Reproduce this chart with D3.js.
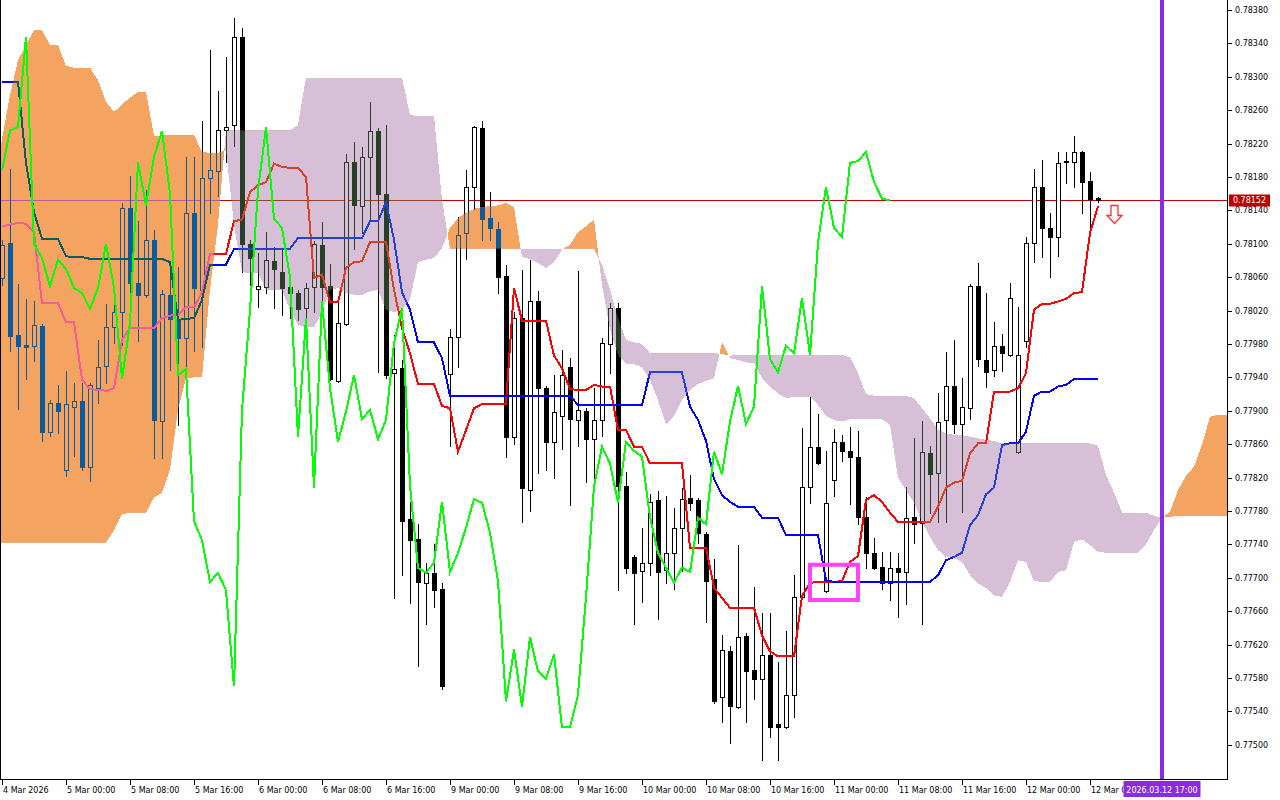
<!DOCTYPE html>
<html><head><meta charset="utf-8">
<script src="https://cdn.jsdelivr.net/npm/d3@7"></script>
<style>
html,body{margin:0;padding:0;background:#fff;}
svg{display:block;}
text{font-family:"DejaVu Sans",sans-serif;font-size:8px;}
</style></head><body>
<svg id="chart" width="1280" height="800"></svg>
<script>
// ---------- DATA (H1 bars, 4 Mar 16:00 .. 12 Mar 09:00) ----------
const opens=[0.78059,0.78101,0.77991,0.77979,0.77978,0.78002,0.77875,0.77909,0.77829,0.77905,
0.77912,0.77833,0.77927,0.77954,0.78000,0.78018,0.78143,0.78053,0.78039,0.78105,
0.77888,0.78039,0.78010,0.77987,0.78137,0.78045,0.78179,0.78187,0.78236,0.78242,
0.78348,0.78100,0.78046,0.78048,0.78079,0.78066,0.78048,0.78041,0.78023,0.78048,
0.78099,0.78049,0.77936,0.78004,0.78198,0.78145,0.78204,0.78235,0.78160,0.77945,
0.77951,0.77770,0.77746,0.77694,0.77706,0.77687,0.77944,0.77988,0.78113,0.78168,
0.78239,0.78131,0.78118,0.78061,0.77869,0.78011,0.77805,0.78031,0.77927,0.77863,
0.77894,0.77952,0.77889,0.77900,0.77866,0.77889,0.77980,0.78023,0.77810,0.77725,
0.77708,0.77718,0.77793,0.77709,0.77730,0.77760,0.77796,0.77793,0.77752,0.77699,
0.77557,0.77612,0.77545,0.77630,0.77590,0.77579,0.77608,0.77525,0.77521,0.77560,
0.77677,0.77809,0.77857,0.77684,0.77817,0.77863,0.77852,0.77845,0.77773,0.77730,
0.77713,0.77694,0.77712,0.77707,0.77773,0.77766,0.77849,0.77826,0.77889,0.77930,
0.77884,0.77903,0.78049,0.77961,0.77949,0.77978,0.77967,0.77851,0.77984,0.78101,
0.78168,0.78119,0.78108,0.78198,0.78198,0.78210,0.78175,0.78155];
const highs=[0.78105,0.78190,0.78052,0.78034,0.78031,0.78004,0.77913,0.77931,0.77948,0.77933,
0.77933,0.77933,0.77985,0.78028,0.78036,0.78149,0.78181,0.78127,0.78164,0.78117,
0.78045,0.78072,0.78072,0.78204,0.78204,0.78247,0.78332,0.78283,0.78324,0.78370,
0.78358,0.78105,0.78089,0.78114,0.78096,0.78095,0.78061,0.78045,0.78053,0.78103,
0.78126,0.78076,0.78029,0.78208,0.78222,0.78216,0.78270,0.78239,0.78242,0.77991,
0.77961,0.77791,0.77764,0.77718,0.77740,0.77694,0.77998,0.78132,0.78188,0.78241,
0.78247,0.78162,0.78126,0.78075,0.78018,0.78069,0.78081,0.78043,0.77930,0.77943,
0.77973,0.77963,0.78067,0.77903,0.77927,0.77987,0.78029,0.78029,0.77827,0.77727,
0.77760,0.77800,0.77804,0.77798,0.77784,0.77808,0.77823,0.77796,0.77755,0.77723,
0.77631,0.77618,0.77739,0.77634,0.77689,0.77658,0.77658,0.77599,0.77636,0.77703,
0.77879,0.77917,0.77896,0.77852,0.77878,0.77871,0.77881,0.77876,0.77797,0.77748,
0.77731,0.77731,0.77730,0.77809,0.77867,0.77888,0.77858,0.77921,0.77970,0.77985,
0.77939,0.78052,0.78077,0.78041,0.78006,0.77992,0.78053,0.78024,0.78108,0.78190,
0.78200,0.78137,0.78210,0.78210,0.78229,0.78211,0.78186,0.78156];
const lows=[0.78051,0.77972,0.77902,0.77938,0.77960,0.77864,0.77870,0.77873,0.77822,0.77846,
0.77829,0.77816,0.77909,0.77933,0.77981,0.77979,0.78017,0.77984,0.78036,0.77843,
0.77843,0.77949,0.77883,0.77954,0.77972,0.77976,0.78137,0.78157,0.78198,0.78217,
0.78066,0.78051,0.78024,0.78041,0.78023,0.78015,0.78011,0.78009,0.78011,0.78018,
0.78027,0.77937,0.77934,0.78003,0.78094,0.78113,0.78129,0.77946,0.77939,0.77676,
0.77703,0.77670,0.77594,0.77645,0.77665,0.77567,0.77858,0.77952,0.78082,0.78142,
0.78105,0.78105,0.78041,0.77845,0.77860,0.77767,0.77780,0.77826,0.77829,0.77820,
0.77854,0.77787,0.77858,0.77815,0.77814,0.77870,0.77945,0.77685,0.77706,0.77645,
0.77671,0.77703,0.77651,0.77694,0.77687,0.77708,0.77781,0.77742,0.77647,0.77550,
0.77527,0.77502,0.77544,0.77527,0.77555,0.77482,0.77509,0.77482,0.77520,0.77533,
0.77676,0.77790,0.77836,0.77683,0.77798,0.77840,0.77788,0.77764,0.77712,0.77711,
0.77687,0.77673,0.77653,0.77669,0.77742,0.77645,0.77778,0.77767,0.77767,0.77873,
0.77779,0.77890,0.77954,0.77929,0.77942,0.77948,0.77966,0.77849,0.77976,0.78078,
0.78084,0.78060,0.78085,0.78173,0.78168,0.78137,0.78114,0.78150];
const closes=[0.78099,0.77990,0.77978,0.77976,0.78003,0.77875,0.77909,0.77900,0.77908,0.77912,
0.77833,0.77931,0.77952,0.78000,0.78018,0.78143,0.78053,0.78039,0.78105,0.77889,
0.78040,0.78010,0.77987,0.78137,0.78047,0.78179,0.78188,0.78236,0.78240,0.78348,
0.78100,0.78083,0.78049,0.78081,0.78070,0.78047,0.78041,0.78022,0.78047,0.78100,
0.78048,0.77938,0.78005,0.78198,0.78146,0.78204,0.78235,0.78160,0.77943,0.77950,
0.77768,0.77745,0.77695,0.77706,0.77685,0.77570,0.77988,0.78111,0.78168,0.78240,
0.78130,0.78119,0.78060,0.77869,0.78011,0.77808,0.78031,0.77927,0.77863,0.77899,
0.77943,0.77890,0.77901,0.77866,0.77889,0.77981,0.78023,0.77810,0.77712,0.77706,
0.77718,0.77791,0.77707,0.77730,0.77760,0.77794,0.77790,0.77754,0.77696,0.77552,
0.77614,0.77546,0.77629,0.77588,0.77579,0.77608,0.77521,0.77521,0.77560,0.77677,
0.77809,0.77857,0.77837,0.77790,0.77863,0.77852,0.77845,0.77773,0.77730,0.77712,
0.77694,0.77712,0.77707,0.77772,0.77764,0.77851,0.77824,0.77887,0.77930,0.77884,
0.77905,0.78049,0.77962,0.77946,0.77978,0.77969,0.78035,0.77967,0.78101,0.78168,
0.78119,0.78108,0.78197,0.78199,0.78210,0.78174,0.78154,0.78152];
// Ichimoku: Tenkan-sen (red)
const tenkan=[0.78121,0.78123,0.78125,0.78124,0.78114,0.78029,0.78029,0.78029,0.78006,0.78006,
0.77937,0.77926,0.77925,0.77924,0.77927,0.77985,0.77999,0.77999,0.77999,0.77999,
0.78011,0.78014,0.78015,0.78024,0.78024,0.78042,0.78088,0.78088,0.78088,0.78127,
0.78129,0.78162,0.78170,0.78174,0.78196,0.78192,0.78191,0.78191,0.78180,0.78059,
0.78063,0.78030,0.78030,0.78071,0.78078,0.78079,0.78102,0.78102,0.78102,0.78045,
0.77999,0.77969,0.77932,0.77932,0.77932,0.77906,0.77903,0.77851,0.77877,0.77903,
0.77908,0.77908,0.77908,0.77908,0.78047,0.78008,0.78008,0.78008,0.78008,0.77966,
0.77951,0.77926,0.77925,0.77925,0.77931,0.77929,0.77929,0.77877,0.77877,0.77857,
0.77857,0.77837,0.77837,0.77837,0.77837,0.77837,0.77736,0.77736,0.77736,0.77688,
0.77676,0.77664,0.77664,0.77664,0.77664,0.77631,0.77612,0.77606,0.77606,0.77606,
0.77678,0.77694,0.77695,0.77695,0.77695,0.77696,0.77719,0.77726,0.77793,0.77799,
0.77791,0.77778,0.77767,0.77767,0.77767,0.77767,0.77767,0.77785,0.77808,0.77814,
0.77816,0.77849,0.77861,0.77861,0.77923,0.77923,0.77923,0.77927,0.77945,0.78021,
0.78028,0.78028,0.78031,0.78034,0.78041,0.78042,0.78113,0.78145];
// Kijun-sen (blue)
const kijun=[0.78294,0.78294,0.78294,0.78197,0.78138,0.78106,0.78106,0.78106,0.78085,0.78084,
0.78084,0.78082,0.78082,0.78082,0.78082,0.78082,0.78082,0.78082,0.78082,0.78082,
0.78082,0.78078,0.78009,0.78010,0.78011,0.78033,0.78075,0.78075,0.78075,0.78094,
0.78094,0.78094,0.78094,0.78094,0.78094,0.78094,0.78094,0.78107,0.78107,0.78107,
0.78107,0.78107,0.78107,0.78107,0.78107,0.78107,0.78127,0.78127,0.78150,0.78105,
0.78042,0.78021,0.77982,0.77982,0.77982,0.77963,0.77918,0.77918,0.77918,0.77918,
0.77918,0.77918,0.77918,0.77918,0.77918,0.77918,0.77918,0.77918,0.77918,0.77918,
0.77918,0.77918,0.77907,0.77907,0.77907,0.77907,0.77907,0.77907,0.77907,0.77907,
0.77907,0.77946,0.77946,0.77946,0.77946,0.77946,0.77905,0.77889,0.77864,0.77818,
0.77799,0.77791,0.77785,0.77785,0.77785,0.77772,0.77772,0.77772,0.77751,0.77751,
0.77751,0.77751,0.77751,0.77697,0.77695,0.77695,0.77695,0.77695,0.77695,0.77695,
0.77695,0.77695,0.77695,0.77695,0.77695,0.77695,0.77695,0.77703,0.77721,0.77725,
0.77730,0.77763,0.77775,0.77800,0.77808,0.77859,0.77861,0.77861,0.77875,0.77918,
0.77923,0.77923,0.77929,0.77931,0.77938,0.77938,0.77938,0.77938];
// Chikou span (green), plotted 26 bars back
const chikou=[0.78188,0.78236,0.78240,0.78348,0.78100,0.78083,0.78049,0.78081,0.78070,0.78047,
0.78041,0.78022,0.78047,0.78100,0.78048,0.77938,0.78005,0.78198,0.78146,0.78204,
0.78235,0.78160,0.77943,0.77950,0.77768,0.77745,0.77695,0.77706,0.77685,0.77570,
0.77901,0.78021,0.78164,0.78240,0.78130,0.78119,0.78060,0.77869,0.78011,0.77808,
0.78031,0.77927,0.77863,0.77899,0.77943,0.77890,0.77901,0.77866,0.77889,0.77981,
0.78023,0.77810,0.77712,0.77706,0.77718,0.77791,0.77707,0.77730,0.77760,0.77794,
0.77790,0.77754,0.77696,0.77552,0.77614,0.77546,0.77629,0.77588,0.77579,0.77608,
0.77521,0.77521,0.77560,0.77677,0.77809,0.77857,0.77837,0.77790,0.77863,0.77852,
0.77845,0.77773,0.77730,0.77712,0.77694,0.77712,0.77707,0.77772,0.77764,0.77851,
0.77824,0.77887,0.77930,0.77884,0.77905,0.78049,0.77962,0.77946,0.77978,0.77969,
0.78035,0.77967,0.78101,0.78168,0.78119,0.78108,0.78197,0.78199,0.78210,0.78174,
0.78154,0.78152];
// Senkou span A / B (cloud), plotted 26 bars ahead
const senkouA=[0.78212,0.78278,0.78320,0.78338,0.78356,0.78356,0.78338,0.78338,0.78313,0.78311,
0.78311,0.78311,0.78296,0.78270,0.78258,0.78267,0.78275,0.78282,0.78282,0.78229,
0.78230,0.78230,0.78230,0.78230,0.78230,0.78210,0.78209,0.78209,0.78212,0.78123,
0.78066,0.78065,0.78065,0.78045,0.78045,0.78045,0.78021,0.78003,0.78000,0.78000,
0.78018,0.78045,0.78047,0.78041,0.78039,0.78039,0.78043,0.78045,0.78021,0.78018,
0.78021,0.78033,0.78078,0.78081,0.78083,0.78095,0.78119,0.78131,0.78137,0.78142,
0.78144,0.78145,0.78146,0.78149,0.78144,0.78084,0.78082,0.78077,0.78071,0.78078,
0.78093,0.78099,0.78114,0.78121,0.78129,0.78051,0.77997,0.77967,0.77956,0.77956,
0.77952,0.77937,0.77913,0.77883,0.77894,0.77913,0.77925,0.77932,0.77936,0.77939,
0.77982,0.77963,0.77961,0.77958,0.77957,0.77939,0.77929,0.77921,0.77915,0.77917,
0.77917,0.77917,0.77907,0.77894,0.77889,0.77887,0.77890,0.77890,0.77890,0.77890,
0.77890,0.77883,0.77820,0.77805,0.77790,0.77767,0.77749,0.77733,0.77725,0.77724,
0.77719,0.77703,0.77693,0.77688,0.77679,0.77677,0.77695,0.77721,0.77719,0.77696,
0.77695,0.77695,0.77707,0.77709,0.77743,0.77746,0.77739,0.77731,0.77730,0.77730,
0.77730,0.77730,0.77730,0.77740,0.77757,0.77772,0.77779,0.77805,0.77822,0.77833,
0.77859,0.77893,0.77895,0.77895,0.77895];
const senkouB=[0.77742,0.77742,0.77742,0.77742,0.77742,0.77742,0.77742,0.77742,0.77742,0.77742,
0.77742,0.77742,0.77742,0.77742,0.77757,0.77776,0.77778,0.77778,0.77778,0.77796,
0.77802,0.77829,0.77901,0.77939,0.77940,0.77940,0.78045,0.78123,0.78236,0.78236,
0.78236,0.78236,0.78236,0.78236,0.78236,0.78236,0.78236,0.78242,0.78299,0.78299,
0.78299,0.78299,0.78299,0.78299,0.78299,0.78299,0.78299,0.78299,0.78299,0.78299,
0.78299,0.78254,0.78253,0.78253,0.78253,0.78152,0.78094,0.78094,0.78094,0.78094,
0.78094,0.78094,0.78094,0.78094,0.78094,0.78094,0.78094,0.78094,0.78094,0.78094,
0.78094,0.78094,0.78094,0.78094,0.78094,0.78075,0.78045,0.78011,0.77985,0.77982,
0.77980,0.77969,0.77969,0.77969,0.77969,0.77969,0.77969,0.77969,0.77969,0.77969,
0.77968,0.77966,0.77967,0.77967,0.77967,0.77967,0.77967,0.77967,0.77967,0.77967,
0.77967,0.77967,0.77967,0.77967,0.77967,0.77967,0.77964,0.77945,0.77920,0.77918,
0.77918,0.77918,0.77918,0.77918,0.77915,0.77903,0.77891,0.77877,0.77873,0.77871,
0.77871,0.77869,0.77867,0.77865,0.77864,0.77861,0.77861,0.77861,0.77861,0.77861,
0.77861,0.77861,0.77861,0.77861,0.77861,0.77861,0.77861,0.77858,0.77823,0.77802,
0.77778,0.77778,0.77778,0.77778,0.77774,0.77772,0.77773,0.77774,0.77774,0.77774,
0.77774,0.77774,0.77774,0.77774,0.77774];
const yTicks=[0.78380,0.78340,0.78300,0.78260,0.78220,0.78180,0.78140,0.78100,0.78060,0.78020,
0.77980,0.77940,0.77900,0.77860,0.77820,0.77780,0.77740,0.77700,0.77660,0.77620,0.77580,0.77540,0.77500];
const xTickIndex=[0,8,16,24,32,40,48,56,64,72,80,88,96,104,112,120,128,136];
const xTickLabels=["4 Mar 2026","5 Mar 00:00","5 Mar 08:00","5 Mar 16:00","6 Mar 00:00","6 Mar 08:00",
"6 Mar 16:00","9 Mar 00:00","9 Mar 08:00","9 Mar 16:00","10 Mar 00:00","10 Mar 08:00","10 Mar 16:00",
"11 Mar 00:00","11 Mar 08:00","11 Mar 16:00","12 Mar 00:00","12 Mar 08:00"];
const lastPrice=0.78152;
const vlineIndex=145, vlineLabel="2026.03.12 17:00";
const boxRange={i0:100.75,i1:107.25,p0:0.77718,p1:0.77671};
const arrowAt={i:139,p:0.78146};

// ---------- DRAW ----------
const PR=1227, PB=779;
const svg=d3.select('#chart');
const x=d3.scaleLinear().domain([0,153]).range([2,1226]);
const y=d3.scaleLinear().domain([0.77500,0.78380]).range([744.8,10]);
const vx=x(vlineIndex);
const defs=svg.append('defs');
defs.append('clipPath').attr('id','plotClip').append('rect').attr('x',0).attr('y',0).attr('width',PR).attr('height',PB);
defs.append('clipPath').attr('id','xLabClip').append('rect').attr('x',0).attr('y',PB).attr('width',vx-38.5).attr('height',30);

svg.append('rect').attr('width',1280).attr('height',800).attr('fill','#fff');
const plot=svg.append('g').attr('clip-path','url(#plotClip)');
plot.append('rect').attr('width',PR).attr('height',PB).attr('fill','#fff');

// price line
const py=Math.round(y(lastPrice))+0.5;
plot.append('line').attr('x1',0).attr('x2',PR).attr('y1',py).attr('y2',py).attr('stroke','#C00000').attr('stroke-width',1).attr('shape-rendering','crispEdges');

// candles
const candles=opens.map((o,i)=>({i,o,h:highs[i],l:lows[i],c:closes[i]}));
const cg=plot.append('g');
cg.selectAll('line').data(candles).join('line')
  .attr('x1',d=>Math.round(x(d.i))+0.5).attr('x2',d=>Math.round(x(d.i))+0.5)
  .attr('y1',d=>Math.round(y(d.h))).attr('y2',d=>Math.round(y(d.l))+1)
  .attr('stroke','#000').attr('stroke-width',1).attr('shape-rendering','crispEdges');
cg.selectAll('rect').data(candles).join('rect')
  .each(function(d){
    const bull=d.c>=d.o;
    const top=Math.round(y(Math.max(d.o,d.c))), bot=Math.round(y(Math.min(d.o,d.c)));
    const cx=Math.round(x(d.i));
    const s=d3.select(this);
    if(bull){
      s.attr('x',cx-1.5).attr('y',top+0.5).attr('width',4).attr('height',Math.max(bot-top,1))
       .attr('fill','#fff').attr('stroke','#000').attr('stroke-width',1);
    } else {
      s.attr('x',cx-2).attr('y',top).attr('width',5).attr('height',Math.max(bot-top,0)+1)
       .attr('fill','#000');
    }
  }).attr('shape-rendering','crispEdges');

// tenkan & kijun
const line=d3.line().x((d,i)=>x(i)).y(d=>y(d));
plot.append('path').attr('d',line(tenkan)).attr('fill','none').attr('stroke','#FF0000').attr('stroke-width',2).attr('shape-rendering','crispEdges');
plot.append('path').attr('d',line(kijun)).attr('fill','none').attr('stroke','#0000FF').attr('stroke-width',2).attr('shape-rendering','crispEdges');

// cloud (drawn in difference mode, as the terminal does)
const pts=senkouA.map((a,i)=>({i,a,b:senkouB[i]}));
const cx0=(d,k)=>k===0?0:x(d.i);
const areaAB=d3.area().x(cx0).y0(d=>y(d.b)).y1(d=>y(d.a));
const aboveB=d3.area().x(cx0).y0(-50).y1(d=>y(d.b));
const belowB=d3.area().x(cx0).y0(900).y1(d=>y(d.b));
defs.append('clipPath').attr('id','clipAbove').append('path').attr('d',aboveB(pts));
defs.append('clipPath').attr('id','clipBelow').append('path').attr('d',belowB(pts));
plot.append('path').attr('d',areaAB(pts)).attr('fill','#0B5B9F').attr('clip-path','url(#clipAbove)')
  .style('mix-blend-mode','difference').attr('shape-rendering','crispEdges');
plot.append('path').attr('d',areaAB(pts)).attr('fill','#274027').attr('clip-path','url(#clipBelow)')
  .style('mix-blend-mode','difference').attr('shape-rendering','crispEdges');

// chikou
plot.append('path').attr('d',line(chikou)).attr('fill','none').attr('stroke','#00FF00').attr('stroke-width',2).attr('shape-rendering','crispEdges');

// highlight box
const bx0=x(boxRange.i0), bx1=x(boxRange.i1), by0=y(boxRange.p0), by1=y(boxRange.p1);
plot.append('rect').attr('x',bx0+2).attr('y',by0+2).attr('width',bx1-bx0-4).attr('height',by1-by0-4)
  .attr('fill','none').attr('stroke','#FF44FF').attr('stroke-width',4);

// sell arrow
const ax=x(arrowAt.i)+0.5, ay=Math.round(y(arrowAt.p))+0.5;
const ap=[[ax-3.5,ay],[ax+3.5,ay],[ax+3.5,ay+10],[ax+7.5,ay+10],[ax,ay+18],[ax-7.5,ay+10],[ax-3.5,ay+10]];
plot.append('path').attr('d','M'+ap.map(p=>p.join(',')).join('L')+'Z')
  .attr('fill','#fff').attr('stroke','#FF3030').attr('stroke-width',1.3);

// vertical line
plot.append('line').attr('x1',vx).attr('x2',vx).attr('y1',0).attr('y2',PB).attr('stroke','#8A2BE2').attr('stroke-width',4);

// frame / axes
const ax_g=svg.append('g').attr('shape-rendering','crispEdges');
ax_g.append('line').attr('x1',0.5).attr('x2',0.5).attr('y1',0).attr('y2',PB).attr('stroke','#000');
ax_g.append('line').attr('x1',PR+0.5).attr('x2',PR+0.5).attr('y1',0).attr('y2',PB+1).attr('stroke','#000');
ax_g.append('line').attr('x1',0).attr('x2',PR+1).attr('y1',PB+0.5).attr('y2',PB+0.5).attr('stroke','#000');

// y axis
yTicks.forEach(v=>{
  const ty=Math.round(y(v))+0.5;
  ax_g.append('line').attr('x1',PR).attr('x2',PR+5).attr('y1',ty).attr('y2',ty).attr('stroke','#000');
  svg.append('text').attr('x',PR+8).attr('y',ty).attr('dy','0.35em').attr('fill','#000').text(v.toFixed(5));
});
// x axis (labels clipped where the time tag sits)
const xl=svg.append('g').attr('clip-path','url(#xLabClip)');
xTickIndex.forEach((idx,k)=>{
  const tx=Math.round(x(idx))+0.5;
  ax_g.append('line').attr('x1',tx).attr('x2',tx).attr('y1',PB).attr('y2',PB+6).attr('stroke','#000');
  xl.append('text').attr('x',tx+0.5).attr('y',793).attr('fill','#000').text(xTickLabels[k]);
});

// price tag
svg.append('rect').attr('x',PR+2).attr('y',py-6).attr('width',41).attr('height',12).attr('fill','#C00000');
svg.append('text').attr('x',PR+22.5).attr('y',py).attr('dy','0.35em').attr('text-anchor','middle').attr('fill','#fff').text(lastPrice.toFixed(5));

// time tag
svg.append('rect').attr('x',vx-38.5).attr('y',781).attr('width',77).attr('height',16).attr('fill','#8A2BE2');
svg.append('text').attr('x',vx).attr('y',792.5).attr('text-anchor','middle').attr('fill','#fff').text(vlineLabel);
</script>
</body></html>
